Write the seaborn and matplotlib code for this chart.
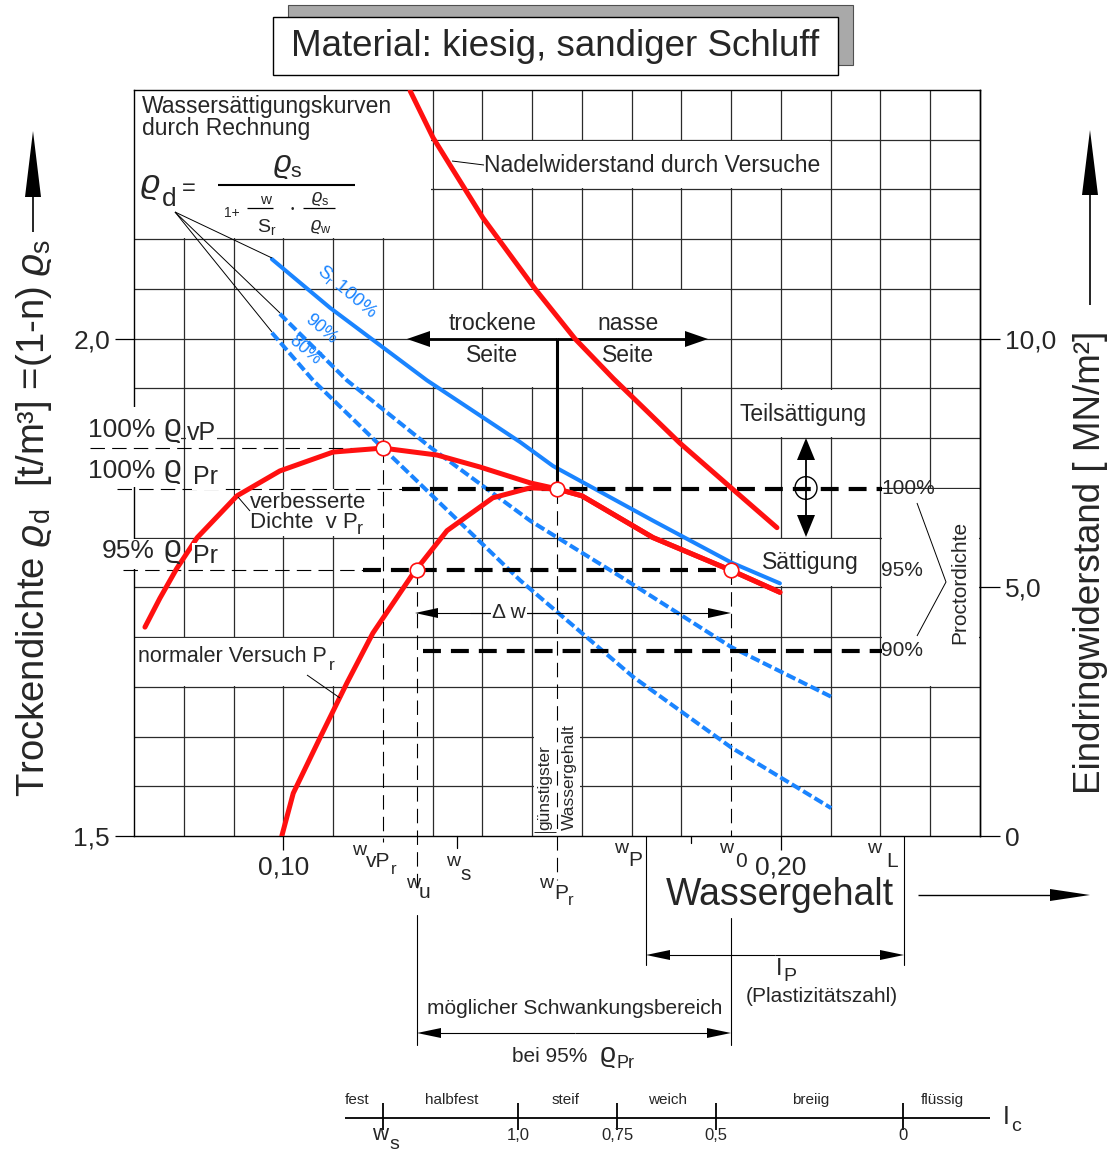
import numpy as np
import matplotlib
matplotlib.use("Agg")
import matplotlib.pyplot as plt
import seaborn as sns
from matplotlib.lines import Line2D
from matplotlib.patches import Rectangle, Polygon, Circle

# Saettigungslinien (Rechnung): Wassergehalt w [-], Trockendichte [t/m3]
sr100_w = [0.0977, 0.1094, 0.1289, 0.1476, 0.1542, 0.1743, 0.1900, 0.1998]
sr100_rho = [2.080, 2.031, 1.958, 1.896, 1.872, 1.817, 1.775, 1.754]
sr90_w = [0.0993, 0.1128, 0.1295, 0.1496, 0.1677, 0.1900, 0.2101]
sr90_rho = [2.025, 1.958, 1.891, 1.817, 1.761, 1.690, 1.640]
sr80_w = [0.0977, 0.1060, 0.1200, 0.1476, 0.1703, 0.1900, 0.2101]
sr80_rho = [2.006, 1.958, 1.890, 1.757, 1.660, 1.589, 1.528]

# Proctorkurven (verbesserter und normaler Versuch)
vpr_w = [0.0722, 0.0752, 0.0786, 0.0827, 0.0907, 0.0993, 0.1100, 0.1200, 0.1309,
         0.1395, 0.1496, 0.1550, 0.1600, 0.1743, 0.1900, 0.1998]
vpr_rho = [1.710, 1.739, 1.769, 1.800, 1.842, 1.867, 1.886, 1.890, 1.883,
           1.871, 1.855, 1.849, 1.842, 1.800, 1.767, 1.745]
pr_w = [0.0997, 0.1020, 0.1074, 0.1128, 0.1180, 0.1261, 0.1329, 0.1421,
        0.1496, 0.1550, 0.1600, 0.1743, 0.1900, 0.1998]
pr_rho = [1.500, 1.543, 1.599, 1.654, 1.704, 1.764, 1.807, 1.840,
          1.850, 1.849, 1.842, 1.800, 1.767, 1.745]

# Nadelwiderstand [MN/m2]
needle_w = [0.1255, 0.1301, 0.1335, 0.1401, 0.1506, 0.1586, 0.1663, 0.1797, 0.1900, 0.1992]
needle_q = [14.98, 14.04, 13.49, 12.43, 11.00, 10.00, 9.20, 7.90, 7.00, 6.20]

# Proctordichte-Stufen
proctor_labels = ["100%", "95%", "90%"]
proctor_rho = [1.849, 1.767, 1.686]
proctor_w_start = [0.1239, 0.1160, 0.1281]
proctor_w_end = [0.2203, 0.1900, 0.2203]

# Kennpunkte (Kreise)
point_w = [0.1200, 0.1550, 0.1269, 0.1900]
point_rho = [1.890, 1.849, 1.767, 1.767]

# Kennwerte Wassergehalt
w_vpr, w_u, w_s, w_pr, w_p, w_0, w_l = 0.12, 0.1269, 0.1349, 0.155, 0.1729, 0.19, 0.2247

# Konsistenzskala
ic_states = ["fest", "halbfest", "steif", "weich", "breiig", "flüssig"]
ic_state_px = [357, 452, 566, 668, 811, 942]
ic_values = ["1,0", "0,75", "0,5", "0"]
ic_tick_px = [383, 518, 617, 716, 903]

W, H = 1117, 1151
RED = "#ff1010"
BLUE = "#1a84ff"
GRID = "#2b2b2b"

sns.set_theme(style="white")
plt.rcParams["font.family"] = ["Liberation Sans", "DejaVu Sans"]
plt.rcParams["mathtext.fontset"] = "custom"
plt.rcParams["mathtext.rm"] = "Liberation Sans"
plt.rcParams["mathtext.it"] = "Liberation Sans:italic"
plt.rcParams["mathtext.bf"] = "Liberation Sans:bold"

fig = plt.figure(figsize=(W / 100, H / 100), dpi=100)
ax = fig.add_axes([134 / W, 1 - 836 / H, 846 / W, 746 / H])
FT = fig.transFigure


def fpt(px, py):
    return px / W, 1 - py / H


def yd(py):
    # Pixelzeile -> Trockendichte, fuer Hilfslinien unterhalb der Achse
    return 1.5 + (836 - py) / 996


def txt(px, py, s, size=16.5, ha="left", va="center", **kw):
    x, y = fpt(px, py)
    kw.setdefault("zorder", 7)
    return ax.text(x, y, s, transform=FT, fontsize=size, ha=ha, va=va,
                   clip_on=False, **kw)


def line(pxs, pys, lw=0.8, color="black", z=5):
    ln = Line2D([p / W for p in pxs], [1 - p / H for p in pys], transform=FT,
                lw=lw, color=color, zorder=z, solid_capstyle="butt")
    ln.set_clip_on(False)
    ax.add_artist(ln)


def arrow(x0, y0, x1, y1, hl=22, hw=6, lw=0.8, z=5):
    d = np.hypot(x1 - x0, y1 - y0)
    ux, uy = (x1 - x0) / d, (y1 - y0) / d
    bx, by = x1 - ux * hl, y1 - uy * hl
    line([x0, bx + ux], [y0, by + uy], lw=lw, z=z)
    nx, ny = -uy, ux
    pts = [fpt(x1, y1), fpt(bx + nx * hw, by + ny * hw), fpt(bx - nx * hw, by - ny * hw)]
    p = Polygon(pts, closed=True, transform=FT, fc="black", ec="none", zorder=z)
    p.set_clip_on(False)
    ax.add_artist(p)


def prect(x0, y0, x1, y1, fc="white", ec="none", lw=0.0, z=2.6):
    r = Rectangle(fpt(x0, y1), (x1 - x0) / W, (y1 - y0) / H, transform=FT,
                  fc=fc, ec=ec, lw=lw, zorder=z)
    r.set_clip_on(False)
    ax.add_artist(r)


# Raster
for x in np.arange(0.08, 0.235, 0.01):
    x = round(x, 2)
    lo = 1.5
    if x == w_vpr:
        lo = point_rho[0]
    if x == w_0:
        lo = proctor_rho[1]
    ax.plot([x, x], [lo, 2.25], color=GRID, lw=0.9, zorder=1)
for y in np.arange(1.55, 2.24, 0.05):
    y = round(y, 2)
    x0 = proctor_w_end[0] if y == 1.85 else 0.07
    ax.plot([x0, 0.24], [y, y], color=GRID, lw=0.9, zorder=1.6 if y == 2.0 else 1)

# weisse Beschriftungsfelder im Raster
label_boxes = [(0.07, 2.10, 0.13, 2.25), (0.13, 2.15, 0.21, 2.20), (0.12, 1.95, 0.19, 2.05),
               (0.19, 1.90, 0.22, 1.95), (0.19, 1.75, 0.22, 1.80), (0.22, 1.65, 0.24, 1.85),
               (0.09, 1.80, 0.12, 1.85), (0.07, 1.65, 0.12, 1.70), (0.15, 1.50, 0.16, 1.65)]
for x0, y0, x1, y1 in label_boxes:
    ax.add_patch(Rectangle((x0 + 0.0003, y0 + 0.0013), x1 - x0 - 0.0006, y1 - y0 - 0.0026,
                           fc="white", ec="none", zorder=1.5))

# Saettigungslinien
sns.lineplot(x=sr100_w, y=sr100_rho, ax=ax, color=BLUE, lw=2.9, sort=False, estimator=None, zorder=3)
for sw, sr in [(sr90_w, sr90_rho), (sr80_w, sr80_rho)]:
    sns.lineplot(x=sw, y=sr, ax=ax, color=BLUE, lw=2.9, sort=False, estimator=None,
                 linestyle=(0, (2.4, 0.9)), zorder=3)

# Proctordichte-Linien
for r, ws, we in zip(proctor_rho, proctor_w_start, proctor_w_end):
    ax.plot([ws, we], [r, r], color="black", lw=3, linestyle=(0, (4.3, 2.4)), zorder=3.5)

# duenne Hilfslinien
thin = dict(color="black", lw=0.8, linestyle=(0, (13, 6.5)), zorder=2.7, clip_on=False)
ax.plot([0.0612, w_vpr], [point_rho[0]] * 2, **thin)
ax.plot([0.0666, proctor_w_start[0]], [proctor_rho[0]] * 2, **thin)
ax.plot([0.0678, proctor_w_start[1]], [proctor_rho[1]] * 2, **thin)
ax.plot([w_vpr, w_vpr], [point_rho[0], yd(842)], **thin)
ax.plot([w_u, w_u], [proctor_rho[1], yd(890)], **thin)
ax.plot([w_pr, w_pr], [point_rho[1], yd(880)], **thin)
ax.plot([w_0, w_0], [proctor_rho[1], 1.5], **thin)

# Proctorkurven
sns.lineplot(x=vpr_w, y=vpr_rho, ax=ax, color=RED, lw=3.6, sort=False, estimator=None, zorder=4)
sns.lineplot(x=pr_w, y=pr_rho, ax=ax, color=RED, lw=3.6, sort=False, estimator=None, zorder=4)
sns.scatterplot(x=point_w, y=point_rho, ax=ax, s=110, color="white", edgecolor=RED,
                linewidth=1.2, zorder=6)

# Nadelwiderstand auf rechter Achse
ax2 = ax.twinx()
sns.lineplot(x=needle_w, y=needle_q, ax=ax2, color=RED, lw=3.6, sort=False, estimator=None)
ax2.set_ylim(0, 15)
ax2.set_yticks([0, 5, 10])
ax2.set_yticklabels(["0", "5,0", "10,0"])
ax2.set_ylabel("")
for s in ["left", "top", "bottom"]:
    ax2.spines[s].set_visible(False)
ax2.spines["right"].set_color("black")
ax2.spines["right"].set_linewidth(1.0)
ax2.tick_params(axis="y", right=True, length=14.4, width=0.9, color="black",
                labelsize=19, pad=3.6, direction="out")

ax.set_xlim(0.07, 0.24)
ax.set_ylim(1.5, 2.25)
ax.set_xticks([0.10, 0.20])
ax.set_xticklabels(["0,10", "0,20"])
ax.set_yticks([1.5, 2.0])
ax.set_yticklabels(["1,5", "2,0"])
ax.tick_params(axis="x", bottom=True, length=10, width=0.9, color="black", labelsize=19, pad=4)
ax.tick_params(axis="y", left=True, length=13.7, width=0.9, color="black", labelsize=19, pad=3.6)
for s in ax.spines.values():
    s.set_color("black")
    s.set_linewidth(1.0)
ax.set_xlabel("")
ax.set_ylabel("")

# Titel mit Schatten
prect(288, 5, 853, 65, fc="#a9a9a9", ec="#505050", lw=0.8, z=2)
prect(273, 17, 838, 75, fc="white", ec="black", lw=1.0, z=2.1)
txt(555, 46, "Material: kiesig, sandiger Schluff", 26.5, ha="center")

# Achsentitel mit Pfeilen
txt(34, 518, r"Trockendichte $\varrho_\mathrm{d}$  [t/m³] =(1-n) $\varrho_\mathrm{s}$", 27.5,
    ha="center", rotation=90)
arrow(33, 232, 33, 131, hl=66, hw=8, lw=1.2)
txt(1090, 562, "Eindringwiderstand [ MN/m²]", 26.5, ha="center", rotation=90)
arrow(1090, 305, 1090, 130, hl=65, hw=8, lw=1.2)
txt(780, 895, "Wassergehalt", 27, ha="center")
arrow(918, 895, 1090, 895, hl=40, hw=6, lw=1.0)

# Formel
txt(142, 106, "Wassersättigungskurven", 16.5)
txt(142, 129, "durch Rechnung", 16.5)
txt(150, 187, r"$\varrho$", 24, ha="center")
txt(169, 199, "d", 19, ha="center")
txt(189, 189, "=", 17, ha="center")
line([218, 355], [185, 185], lw=1.5)
txt(288, 166, r"$\varrho_\mathrm{s}$", 22, ha="center")
txt(232, 213, "1+", 10, ha="center")
line([247, 273], [208, 208], lw=0.9)
txt(266, 200, "w", 11, ha="center")
txt(267, 227, r"$\mathrm{S_r}$", 14, ha="center")
txt(292, 209, "•", 7, ha="center")
line([303, 335], [208, 208], lw=0.9)
txt(320, 199, r"$\varrho_\mathrm{s}$", 13, ha="center")
txt(321, 227, r"$\varrho_\mathrm{w}$", 13, ha="center")
for ex, ey in [(272, 258), (280, 313), (272, 332)]:
    line([175, ex], [212, ey], lw=0.7)
txt(347, 291, r"$\mathrm{S_r}$ 100%", 13.5, ha="center", color=BLUE, rotation=-40)
txt(321, 329, "90%", 13, ha="center", color=BLUE, rotation=-40)
txt(305, 350, "80%", 13, ha="center", color=BLUE, rotation=-40)

# Beschriftungen im Diagramm
txt(484, 165, "Nadelwiderstand durch Versuche", 16.5)
line([452, 484], [161, 165], lw=0.7)
txt(493, 324, "trockene", 16.5, ha="center")
txt(492, 355, "Seite", 16.5, ha="center")
txt(628, 324, "nasse", 16.5, ha="center")
txt(628, 355, "Seite", 16.5, ha="center")
arrow(557, 339, 407, 339, hl=23, hw=8, lw=2.0)
arrow(557, 339, 708, 339, hl=23, hw=8, lw=2.0)
line([557, 557], [338, 482], lw=2.2)

txt(803, 415, "Teilsättigung", 16.5, ha="center")
arrow(806, 488, 806, 438, hl=22, hw=9, lw=1.3)
arrow(806, 488, 806, 537, hl=22, hw=9, lw=1.3)
ax.add_artist(Circle(fpt(806, 488), 11 / W, transform=FT, fc="none", ec="black", lw=1.0, zorder=5))
txt(810, 563, "Sättigung", 16.5, ha="center")
for lab, py in zip(proctor_labels, [488, 570, 651]):
    txt(881, py, lab, 15, ha="left")
txt(960, 582, "Proctordichte", 15, ha="center", rotation=90)
line([917, 946, 917], [503, 582, 636], lw=0.7)

txt(250, 502, "verbesserte", 16)
txt(250, 523, "Dichte  v P", 16)
txt(357, 530, "r", 13)
line([238, 250], [497, 511], lw=0.7)
txt(138, 657, "normaler Versuch P", 15.5)
txt(329, 666, "r", 12.5)
line([307, 340], [675, 698], lw=0.7)

txt(509, 613, "Δ w", 15, ha="center", bbox=dict(fc="white", ec="none", pad=1))
arrow(560, 613, 415, 613, hl=23, hw=5, lw=0.8)
arrow(470, 613, 731, 613, hl=23, hw=5, lw=0.8)

txt(545, 830, "günstigster", 12.5, ha="center", va="bottom", rotation=90)
txt(569, 830, "Wassergehalt", 12.5, ha="center", va="bottom", rotation=90)
line([534, 556], [832, 832], lw=0.6)

# linke Beschriftungen
prect(85, 407, 181, 487)
prect(95, 539, 181, 569)
txt(155, 430, "100%", 19, ha="right")
txt(172, 428, "ϱ", 22, ha="center")
txt(187, 433, "vP", 18, bbox=dict(fc="white", ec="none", pad=0.5))
txt(155, 471, "100%", 19, ha="right")
txt(172, 469, "ϱ", 22, ha="center")
txt(193, 477, "Pr", 18, bbox=dict(fc="white", ec="none", pad=0.5))
txt(155, 551, "95%", 19, ha="right")
txt(172, 549, "ϱ", 22, ha="center")
txt(193, 556, "Pr", 18, bbox=dict(fc="white", ec="none", pad=0.5))


# w-Kennzeichnungen unter der Achse
def wlab(px, py, parts):
    txt(px, py, "w", 14, va="baseline")
    for sx, sy, s, sz in parts:
        txt(sx, sy, s, sz, va="baseline")


wlab(352, 855, [(366, 867, "vP", 15), (391, 874, "r", 12)])
wlab(406, 888, [(419, 898, "u", 15)])
wlab(446, 866, [(460, 880, "s", 15)])
wlab(539, 888, [(554, 899, "P", 15), (568, 905, "r", 12)])
wlab(614, 853, [(628, 866, "P", 15)])
wlab(719, 853, [(735, 867, "0", 15)])
wlab(867, 853, [(886, 867, "L", 15)])
ax.plot([w_s, w_s], [1.5, yd(848)], color="black", lw=0.9, clip_on=False, zorder=5)
ax.plot([0.1819, 0.1819], [1.5, yd(843)], color="black", lw=0.9, clip_on=False, zorder=5)

# Bereiche unter dem Diagramm
ax.plot([w_u, w_u], [yd(915), yd(1045)], color="black", lw=0.8, clip_on=False)
ax.plot([w_0, w_0], [yd(918), yd(1045)], color="black", lw=0.8, clip_on=False)
ax.plot([w_p, w_p], [1.5, yd(965)], color="black", lw=0.8, clip_on=False)
ax.plot([w_l, w_l], [1.5, yd(965)], color="black", lw=0.8, clip_on=False)
arrow(775, 955, 646, 955, hl=24, hw=5)
arrow(775, 955, 904, 955, hl=24, hw=5)
txt(776, 975, "I", 17, va="baseline")
txt(783, 981, "P", 14, va="baseline")
txt(822, 996, "(Plastizitätszahl)", 15, ha="center")
txt(575, 1008, "möglicher Schwankungsbereich", 15, ha="center")
arrow(575, 1033, 417, 1033, hl=24, hw=5)
arrow(575, 1033, 731, 1033, hl=24, hw=5)
txt(512, 1062, "bei 95%", 15, va="baseline")
txt(600, 1062, "ϱ", 20, va="baseline")
txt(616, 1068, "Pr", 13, va="baseline")

# Konsistenzskala
line([345, 990], [1118, 1118], lw=1.3)
for px in ic_tick_px:
    line([px, px], [1103, 1130], lw=1.3)
for lab, px in zip(ic_states, ic_state_px):
    txt(px, 1100, lab, 11, ha="center")
for lab, px in zip(ic_values, ic_tick_px[1:]):
    txt(px, 1135, lab, 12, ha="center")
txt(372, 1140, "w", 16, va="baseline")
txt(389, 1149, "s", 14, va="baseline")
txt(1003, 1124, "I", 18, va="baseline")
txt(1011, 1131, "c", 14, va="baseline")

fig.savefig("out.png", dpi=100)
